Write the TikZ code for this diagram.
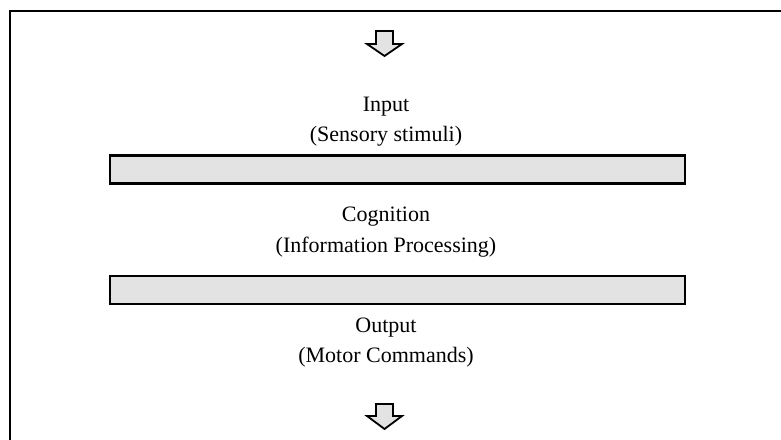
\documentclass[tikz,border=0pt]{standalone}
\usepackage{fontspec}
\setmainfont{Liberation Serif}
\definecolor{barfill}{HTML}{E3E3E3}
\tikzset{
  bar/.style={draw=black, line width=2.5pt, fill=barfill, minimum width=575pt, minimum height=28pt, inner sep=0pt},
  blockarrow/.style={draw=black, line width=1.8pt, fill=barfill, line join=miter},
  label/.style={font=\fontsize{22}{26}\selectfont, inner sep=0pt, anchor=base},
  frame/.style={draw=black, line width=2pt}
}
\begin{document}
\begin{tikzpicture}[x=1pt,y=-1pt]
\useasboundingbox (0,0) rectangle (781,439);
\begin{scope}
\clip (0,0) rectangle (781,439);
\draw[frame] (10,11) rectangle (800,460);
\end{scope}
% top arrow
\draw[blockarrow] (376,31) -- (393,31) -- (393,44) -- (402,44) -- (384.5,56) -- (367,44) -- (376,44) -- cycle;
\coordinate (toparrow) at (384.5,44);
% bottom arrow
\draw[blockarrow] (376,404) -- (393,404) -- (393,416) -- (402,416) -- (384.5,429) -- (367,416) -- (376,416) -- cycle;
\coordinate (botarrow) at (384.5,416);
\node[label] (in1) at (386,111) {Input};
\node[label] (in2) at (386,141) {(Sensory stimuli)};
\node[bar] (bar1) at (397.5,169.5) {};
\node[label] (cg1) at (386,221) {Cognition};
\node[label] (cg2) at (386,252) {(Information Processing)};
\node[bar] (bar2) at (397.5,290) {};
\node[label] (out1) at (386,332) {Output};
\node[label] (out2) at (386,362) {(Motor Commands)};
\end{tikzpicture}
\end{document}
